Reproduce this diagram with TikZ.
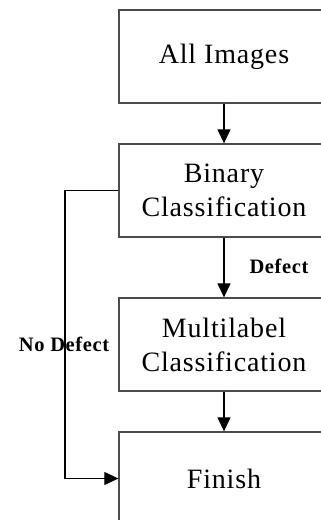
\documentclass[tikz,border=0pt]{standalone}
\usepackage{fontspec}
\setmainfont{Liberation Serif}[LetterSpace=3]
\usetikzlibrary{arrows.meta}
\tikzset{
  stagebox/.style={draw=black!70, line width=1.3pt, rectangle, minimum width=210pt, minimum height=93pt, inner sep=0pt, align=center, font=\fontsize{28}{34}\selectfont},
  flowarrow/.style={draw=black, line width=1.2pt, -{Triangle[length=14pt,width=13pt]}},
  edgelabel/.style={font=\fontsize{20.5}{23}\selectfont\bfseries, inner sep=0pt}
}
\begin{document}
\begin{tikzpicture}[x=1pt,y=-1pt]
\useasboundingbox (0,0) rectangle (321,520);
\clip (0,0) rectangle (321,520);
\node[stagebox] (all) at (224,56.5) {All Images};
\node[stagebox] (bin) at (224,190.5) {Binary\\Classification};
\node[stagebox] (multi) at (224,344.5) {Multilabel\\Classification};
\node[stagebox] (fin) at (224,478.5) {Finish};
\coordinate (c1) at (65,190.5);
\coordinate (c2) at (65,478.5);
\draw[flowarrow] (all) -- (bin);
\draw[flowarrow] (bin) -- (multi);
\draw[flowarrow] (multi) -- (fin);
\draw[flowarrow] (bin.west) -- (c1) -- (c2) -- (fin.west);
\node[edgelabel] (deflab) at (279,266.5) {Defect};
\node[edgelabel] (nodeflab) at (64,344) {No Defect};
\end{tikzpicture}
\end{document}
